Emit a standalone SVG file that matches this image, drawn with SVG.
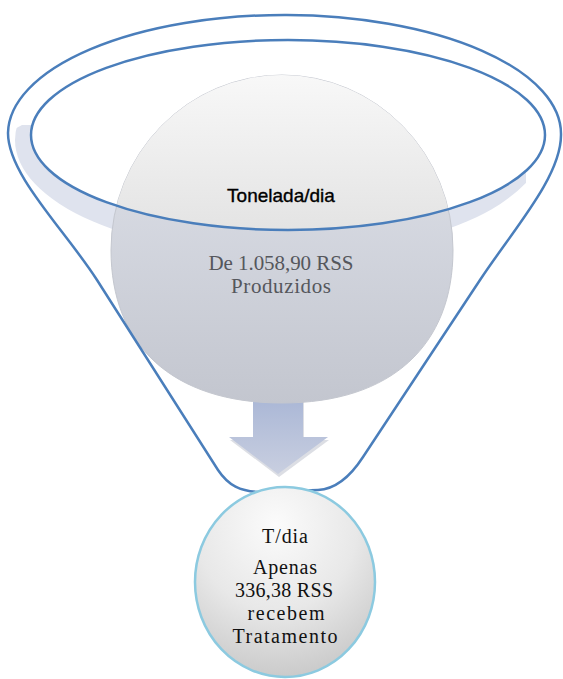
<svg xmlns="http://www.w3.org/2000/svg" width="563" height="679" viewBox="0 0 563 679">
  <style>
    .funnel { fill: none; stroke: #4a7ebb; stroke-width: 2.5; stroke-linejoin: round; }
    .serif { font-family: "Liberation Serif", "Times New Roman", serif; text-anchor: middle; }
    .sans { font-family: "Liberation Sans", Arial, sans-serif; text-anchor: middle; }
  </style>
  <defs>
    <linearGradient id="blueGrad" x1="0" y1="0" x2="0" y2="1">
      <stop offset="0" stop-color="#e2e5ed"/>
      <stop offset="1" stop-color="#c3c6cf"/>
    </linearGradient>
    <linearGradient id="greyGrad" x1="0" y1="75" x2="0" y2="235" gradientUnits="userSpaceOnUse">
      <stop offset="0" stop-color="#f8f8f8"/>
      <stop offset="1" stop-color="#e3e3e3"/>
    </linearGradient>
    <linearGradient id="arrowGrad" x1="0" y1="0" x2="0" y2="1">
      <stop offset="0" stop-color="#aab7d6"/>
      <stop offset="1" stop-color="#c9cfe0"/>
    </linearGradient>
    <radialGradient id="smallGrad" cx="0.45" cy="0.2" r="0.9">
      <stop offset="0" stop-color="#fbfbfb"/>
      <stop offset="0.5" stop-color="#e8e8e8"/>
      <stop offset="1" stop-color="#c2c2c2"/>
    </radialGradient>
    <clipPath id="bandClip">
      <polygon points="0,137 22,125 300,125 526,160 526,330 0,330"/>
    </clipPath>
    <clipPath id="innerClip">
      <ellipse cx="288" cy="135" rx="257" ry="95"/>
    </clipPath>
  </defs>

  <g id="funnel-rim">
    <ellipse cx="280" cy="140" rx="265" ry="115" fill="#dfe3ee" clip-path="url(#bandClip)"/>
    <ellipse cx="288" cy="135" rx="257" ry="95" fill="#ffffff"/>
  </g>

  <g id="connectors">
    <path d="M 253,398 L 303,398 L 303,437 L 328,437 L 278,474 L 229,437 L 253,437 Z" fill="#9aa0b3" opacity="0.35" transform="translate(1,3)"/>
    <path id="arrow" d="M 253,398 L 303,398 L 303,437 L 328,437 L 278,474 L 229,437 L 253,437 Z" fill="url(#arrowGrad)"/>
  </g>

  <g id="node-tonelada">
    <path d="M 111,250 A 171 175 0 0 1 453,250 C 453,345 392,403 282,403 C 172,403 111,345 111,250 Z" fill="url(#blueGrad)" stroke="#c4c7cf" stroke-width="1"/>
    <path d="M 111,250 A 171 175 0 0 1 453,250 C 453,345 392,403 282,403 C 172,403 111,345 111,250 Z" fill="url(#greyGrad)" clip-path="url(#innerClip)"/>
    <text class="sans" x="281" y="202" font-size="19" fill="#000" stroke="#000" stroke-width="0.35">Tonelada/dia</text>
    <text class="serif" x="281" y="270" font-size="21" fill="#55575c" textLength="145" lengthAdjust="spacing">De 1.058,90 RSS</text>
    <text class="serif" x="281" y="293" font-size="21" fill="#55575c" textLength="100" lengthAdjust="spacing">Produzidos</text>
  </g>

  <g id="funnel-outline">
    <ellipse class="funnel" cx="288" cy="135" rx="257" ry="95"/>
    <path class="funnel" d="M 8,133 A 276.5 119 0 0 1 561,135 C 561,177 513,230 480,280 L 363,457 C 352,474 338,489 318,490 L 262,492 C 240,492 228,485 218,470 L 97,280 C 65,230 8,175 8,133 Z"/>
  </g>

  <g id="node-tdia">
    <ellipse cx="285" cy="582" rx="90" ry="95" fill="url(#smallGrad)" stroke="#8ccae0" stroke-width="2.5"/>
    <text class="serif" x="285" y="543" font-size="20" fill="#111" textLength="46" lengthAdjust="spacing">T/dia</text>
    <text class="serif" x="285" y="574" font-size="20" fill="#111" textLength="64" lengthAdjust="spacing">Apenas</text>
    <text class="serif" x="284" y="597" font-size="20" fill="#111" textLength="98" lengthAdjust="spacing">336,38 RSS</text>
    <text class="serif" x="286" y="620" font-size="20" fill="#111" textLength="77" lengthAdjust="spacing">recebem</text>
    <text class="serif" x="285" y="643" font-size="20" fill="#111" textLength="105" lengthAdjust="spacing">Tratamento</text>
  </g>
</svg>
